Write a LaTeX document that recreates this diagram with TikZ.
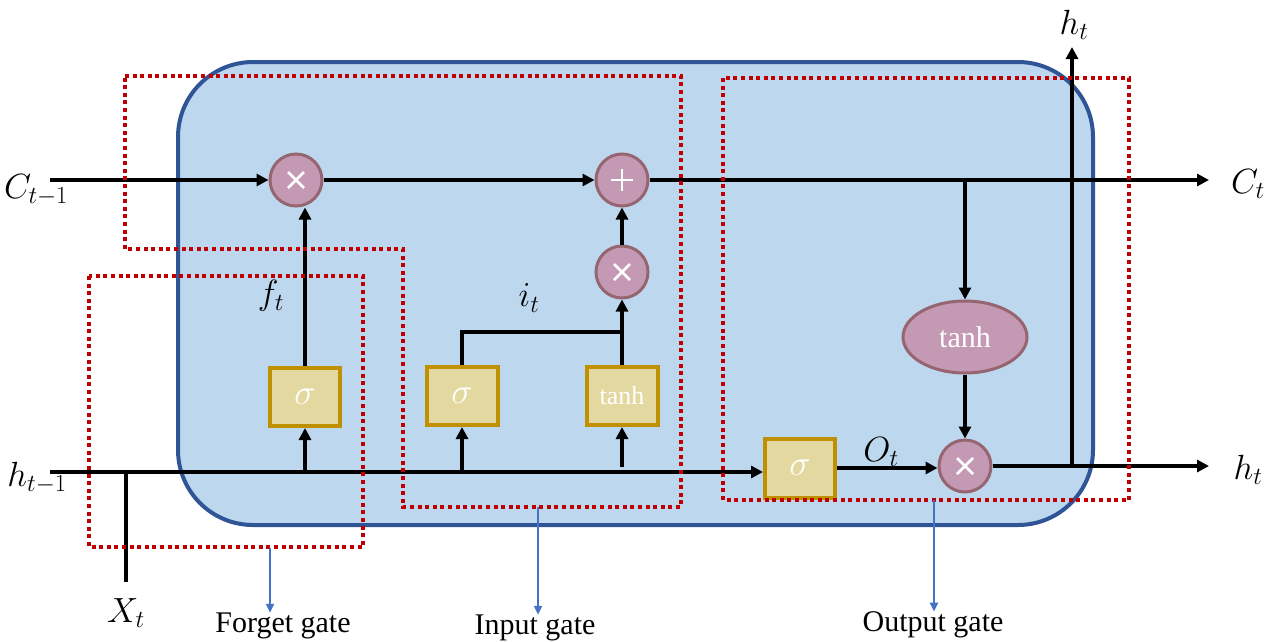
\documentclass[tikz,border=0pt]{standalone}
\usepackage{fix-cm}
\usepackage{fontspec}
\setmainfont{Liberation Serif}
\usetikzlibrary{arrows.meta,shapes.geometric}
\definecolor{cellfill}{HTML}{BDD7EE}
\definecolor{cellline}{HTML}{2F5597}
\definecolor{opfill}{HTML}{C499B3}
\definecolor{opline}{HTML}{966570}
\definecolor{gatefill}{HTML}{E3D8A0}
\definecolor{gateline}{HTML}{BF9000}
\definecolor{regred}{HTML}{C00000}
\definecolor{noteblue}{HTML}{4472C4}
\tikzset{
  op/.style={circle, minimum size=52pt, inner sep=0pt, fill=opfill, draw=opline, line width=3pt},
  mulop/.style={op, path picture={
      \draw[white, line width=2.6pt]
        ([shift={(-8,-8)}]path picture bounding box.center) -- ([shift={(8,8)}]path picture bounding box.center)
        ([shift={(-8,8)}]path picture bounding box.center) -- ([shift={(8,-8)}]path picture bounding box.center);}},
  addop/.style={op, path picture={
      \draw[white, line width=2.6pt]
        ([shift={(-11,0)}]path picture bounding box.center) -- ([shift={(11,0)}]path picture bounding box.center)
        ([shift={(0,-11)}]path picture bounding box.center) -- ([shift={(0,11)}]path picture bounding box.center);}},
  tanhop/.style={ellipse, minimum width=124pt, minimum height=72pt, inner sep=0pt, fill=opfill, draw=opline,
      line width=3pt, text=white, font=\fontsize{30}{36}\selectfont},
  gatebox/.style={rectangle, minimum width=70pt, minimum height=58pt, inner sep=0pt, fill=gatefill,
      draw=gateline, line width=4pt, text=white, font=\fontsize{36}{40}\selectfont},
  wire/.style={line width=3.5pt, black},
  conn/.style={wire, -{Triangle[length=12pt,width=12pt]}},
  region/.style={draw=regred, line width=3.5pt, dash pattern=on 4pt off 3.6pt},
  mlabel/.style={inner sep=0pt, font=\fontsize{35}{40}\selectfont},
  gatename/.style={inner sep=0pt, font=\fontsize{30}{36}\selectfont},
  note/.style={noteblue, line width=2.4pt, -{Triangle[length=9pt,width=8pt]}}
}
\begin{document}
\begin{tikzpicture}[x=1pt,y=-1pt]
\useasboundingbox (0,0) rectangle (1267,641);

% cell body
\draw[fill=cellfill, draw=cellline, line width=4pt, rounded corners=75pt] (178,62) rectangle (1093,525);

% operators and gates
\node[mulop] (t1) at (296,180) {};
\node[addop] (pl) at (622,180) {};
\node[mulop] (t2) at (622,272) {};
\node[mulop] (t3) at (965,466) {};
\node[gatebox] (sf) at (305,397) {$\sigma$};
\node[gatebox, minimum width=71pt] (si) at (462,396) {$\sigma$};
\node[gatebox, minimum width=71pt, font=\fontsize{26}{32}\selectfont] (tb) at (622,396) {tanh};
\node[gatebox, minimum height=59pt] (so) at (800,468) {$\sigma$};
\node[tanhop] (te) at (965,337) {tanh};

% free ends
\coordinate (cin) at (50,180);
\coordinate (cout) at (1209,180);
\coordinate (hin) at (50,472);
\coordinate (hout) at (1209,466);
\coordinate (htop) at (1072,47);
\coordinate (xb) at (126,582);
\coordinate (ij) at (622,332);
\coordinate (tbin) at (622,467);

% cell state path
\draw[conn] (cin) -- (t1);
\draw[conn] (t1) -- (pl);
\draw[conn] (pl) -- (cout);
\draw[conn] (te.north |- cin) -- (te.north);

% hidden state / input path
\draw[conn] (hin) -- (hin -| so.west);
\draw[wire] (xb) -- (xb |- hin);

% forget gate
\draw[conn] (sf.south |- hin) -- (sf.south);
\draw[conn] (sf.north) -- (sf.north |- t1.south);

% input gate
\draw[conn] (si.south |- hin) -- (si.south);
\draw[conn] (tbin) -- (tb.south);
\draw[wire] (si.north) |- (ij);
\draw[conn] (tb.north) -- (t2.south);
\draw[conn] (t2) -- (pl);

% output gate
\draw[conn] (so.east) -- (so.east -| t3.west);
\draw[conn] (te.south) -- (t3.north);
\draw[conn] (t3.east) -- (hout);
\draw[conn] (htop |- hout) -- (htop);

% gate regions
\draw[region] (89,276) rectangle (363,547);
\draw[region] (125,76) -- (681,76) -- (681,507) -- (403,507) -- (403,249) -- (125,249) -- cycle;
\draw[region] (723,78) rectangle (1129,500);

% signal labels
\node[mlabel] (lc0) at (36,190) {$C_{t-1}$};
\node[mlabel] (lh0) at (37,478) {$h_{t-1}$};
\node[mlabel] (lx) at (126,613) {$X_t$};
\node[mlabel] (lf) at (271,296) {$f_t$};
\node[mlabel] (li) at (529,298) {$i_t$};
\node[mlabel] (lo) at (881,452) {$O_t$};
\node[mlabel] (lc1) at (1248,184) {$C_t$};
\node[mlabel] (lh1) at (1248,470) {$h_t$};
\node[mlabel] (lh2) at (1074,25) {$h_t$};

% gate names
\node[gatename] (nf) at (283,626) {Forget gate};
\node[gatename] (ni) at (535,628) {Input gate};
\node[gatename] (no) at (933,625) {Output gate};
\coordinate (pf) at (270,548);
\coordinate (pi) at (538,507);
\coordinate (po) at (934,500);
\draw[note] (pf) -- (pf |- nf.north);
\draw[note] (pi) -- (pi |- ni.north);
\draw[note] (po) -- (po |- no.north);
\end{tikzpicture}
\end{document}
